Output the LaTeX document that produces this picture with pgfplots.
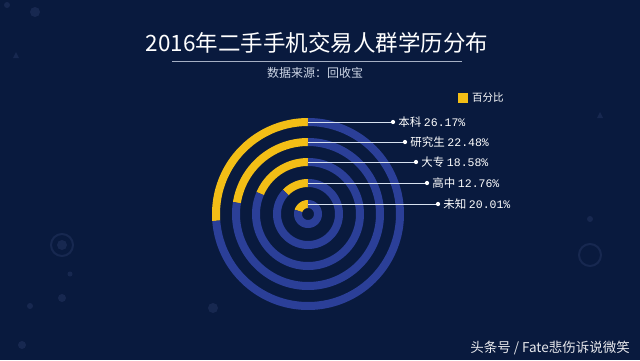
\documentclass[border=0pt]{standalone}
\usepackage{pgfplots}
\pgfplotsset{compat=1.18}
\usepgfplotslibrary{polar}
\usepackage{fontspec}
\setmainfont{Noto Sans CJK SC}
\newfontfamily\numfont{Liberation Mono}
\definecolor{bg}{RGB}{9,26,62}
\definecolor{yel}{RGB}{243,190,22}
\definecolor{blu}{RGB}{43,63,152}
\definecolor{linec}{RGB}{215,225,240}
\definecolor{subc}{RGB}{205,214,230}
\begin{document}
\begin{tikzpicture}[x=1pt,y=1pt]
\fill[bg] (0,0) rectangle (640,360);
% faint background decorations
\begin{scope}[opacity=0.15]
\fill[blu!70!white] (62,115) circle (5);
\draw[blu!70!white, line width=2pt] (62,115) circle (11);
\fill[blu!70!white] (70,86) circle (2.5);
\fill[blu!70!white] (62,62) circle (4);
\fill[blu!70!white] (30,54) circle (3);
\fill[blu!70!white] (22,15) circle (4);
\fill[blu!70!white] (7,355) circle (3);
\fill[blu!70!white] (590,141) circle (3);
\fill[blu!70!white] (35,348) circle (5);
\fill[blu!70!white] (16,308) -- (13,302) -- (19,302) -- cycle;
\fill[blu!70!white] (600,248) -- (597,242) -- (603,242) -- cycle;
\fill[blu!70!white] (213,52) circle (5);
\draw[blu!70!white, line width=2pt] (590,105) circle (11);
\end{scope}
\begin{polaraxis}[
  at={(308pt,146pt)}, anchor=origin,
  width=200pt, height=200pt, scale only axis,
  ymin=0, ymax=100, hide axis, clip=false]
% 本科 26.17
\addplot[domain=90:{90+3.6*26.17}, samples=60, no markers, line width=8pt, yel] {92};
\addplot[domain={90+3.6*26.17}:450, samples=160, no markers, line width=8pt, blu] {92};
% 研究生 22.48
\addplot[domain=90:{90+3.6*22.48}, samples=50, no markers, line width=8pt, yel] {72};
\addplot[domain={90+3.6*22.48}:450, samples=140, no markers, line width=8pt, blu] {72};
% 大专 18.58
\addplot[domain=90:{90+3.6*18.58}, samples=40, no markers, line width=8pt, yel] {52};
\addplot[domain={90+3.6*18.58}:450, samples=120, no markers, line width=8pt, blu] {52};
% 高中 12.76
\addplot[domain=90:{90+3.6*12.76}, samples=30, no markers, line width=8pt, yel] {31};
\addplot[domain={90+3.6*12.76}:450, samples=100, no markers, line width=8pt, blu] {31};
% 未知 20.01
\addplot[domain=90:{90+3.6*20.01}, samples=30, no markers, line width=8pt, yel] {10};
\addplot[domain={90+3.6*20.01}:450, samples=80, no markers, line width=8pt, blu] {10};
% leader lines and labels
\draw[linec, line width=0.8pt] (axis cs:90,92) -- ++(85pt,0) node[circle, fill=white, inner sep=1.5pt]{}
  node[anchor=west, xshift=5pt, text=white, font=\fontsize{11.5}{13}\selectfont, inner sep=0pt]{本科\ {\numfont 26.17\%}};
\draw[linec, line width=0.8pt] (axis cs:90,72) -- ++(97pt,0) node[circle, fill=white, inner sep=1.5pt]{}
  node[anchor=west, xshift=5pt, text=white, font=\fontsize{11.5}{13}\selectfont, inner sep=0pt]{研究生\ {\numfont 22.48\%}};
\draw[linec, line width=0.8pt] (axis cs:90,52) -- ++(108pt,0) node[circle, fill=white, inner sep=1.5pt]{}
  node[anchor=west, xshift=5pt, text=white, font=\fontsize{11.5}{13}\selectfont, inner sep=0pt]{大专\ {\numfont 18.58\%}};
\draw[linec, line width=0.8pt] (axis cs:90,31) -- ++(119pt,0) node[circle, fill=white, inner sep=1.5pt]{}
  node[anchor=west, xshift=5pt, text=white, font=\fontsize{11.5}{13}\selectfont, inner sep=0pt]{高中\ {\numfont 12.76\%}};
\draw[linec, line width=0.8pt] (axis cs:90,10) -- ++(130pt,0) node[circle, fill=white, inner sep=1.5pt]{}
  node[anchor=west, xshift=5pt, text=white, font=\fontsize{11.5}{13}\selectfont, inner sep=0pt]{未知\ {\numfont 20.01\%}};
\end{polaraxis}
% title
\node[text=white, font=\fontsize{22.5}{27}\selectfont] at (317,317) {2016年二手手机交易人群学历分布};
\draw[subc!80!bg, line width=0.8pt] (172,298.5) -- (462,298.5);
\node[text=subc, font=\fontsize{12}{14}\selectfont] at (315,287) {数据来源：回收宝};
% legend
\fill[yel] (458,257) rectangle (468,267);
\node[anchor=west, text=white, font=\fontsize{10.5}{12}\selectfont, inner sep=0pt] at (472,262) {百分比};
% watermark
\node[anchor=east, text=white!90!bg, font=\fontsize{13.5}{16}\selectfont, inner sep=0pt] at (630,12) {头条号 / Fate悲伤诉说微笑};
\end{tikzpicture}
\end{document}
